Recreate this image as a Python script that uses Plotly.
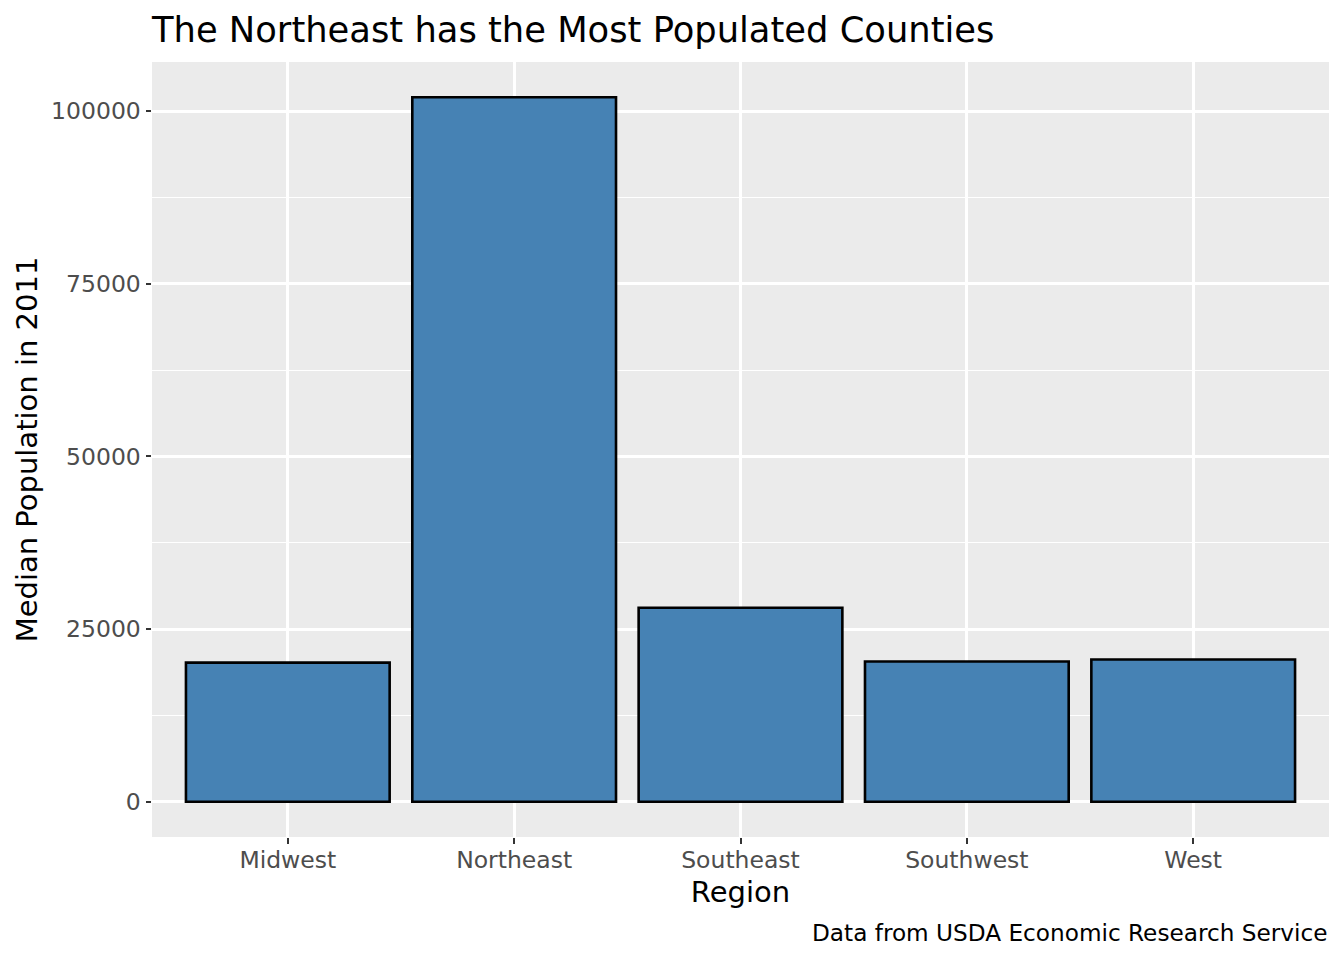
import plotly.graph_objects as go

regions = ["Midwest", "Northeast", "Southeast", "Southwest", "West"]
median_pop = [20150, 102000, 28100, 20300, 20600]
y_ticks = [0, 25000, 50000, 75000, 100000]
y_tick_labels = ["0", "25000", "50000", "75000", "100000"]

FONT = "DejaVu Sans"

fig = go.Figure(
    go.Bar(
        x=regions,
        y=median_pop,
        width=0.9,
        marker=dict(color="#4682B4", line=dict(color="black", width=2.6)),
    )
)

fig.update_layout(
    width=1344,
    height=960,
    margin=dict(l=152, r=15, t=62, b=123),
    paper_bgcolor="white",
    plot_bgcolor="#EBEBEB",
    font=dict(family=FONT, color="black"),
    showlegend=False,
    title=dict(
        text="The Northeast has the Most Populated Counties",
        x=152 / 1344,
        xanchor="left",
        xref="container",
        y=1 - 30 / 960,
        yanchor="middle",
        yref="container",
        font=dict(size=35.3, family=FONT, color="black"),
    ),
    bargap=0.1,
)

fig.update_xaxes(
    range=[-0.6, 4.6],
    showgrid=True,
    gridcolor="white",
    gridwidth=2.7,
    zeroline=False,
    ticks="outside",
    ticklen=5.5,
    tickwidth=2.2,
    tickcolor="#333333",
    ticklabelstandoff=-4,
    tickfont=dict(size=23.5, color="#4D4D4D", family=FONT),
    title=dict(text="Region", font=dict(size=29, family=FONT, color="black"), standoff=8),
    showline=False,
)

fig.update_yaxes(
    range=[-5100, 107100],
    tickvals=y_ticks,
    ticktext=y_tick_labels,
    showgrid=True,
    gridcolor="white",
    gridwidth=2.7,
    zeroline=False,
    ticks="outside",
    ticklen=5.5,
    tickwidth=2.2,
    tickcolor="#333333",
    tickfont=dict(size=23.5, color="#4D4D4D", family=FONT),
    title=dict(text="Median Population in 2011", font=dict(size=29, family=FONT, color="black"), standoff=4),
    minor=dict(dtick=12500, tick0=0, showgrid=True, gridcolor="white", gridwidth=1.35, ticks=""),
    showline=False,
)

fig.add_annotation(
    text="Data from USDA Economic Research Service",
    xref="paper",
    yref="paper",
    x=1,
    xanchor="right",
    y=-(932 - 837) / 775,
    yanchor="middle",
    showarrow=False,
    font=dict(size=23.2, family=FONT, color="black"),
)

fig.write_html("out.html")
